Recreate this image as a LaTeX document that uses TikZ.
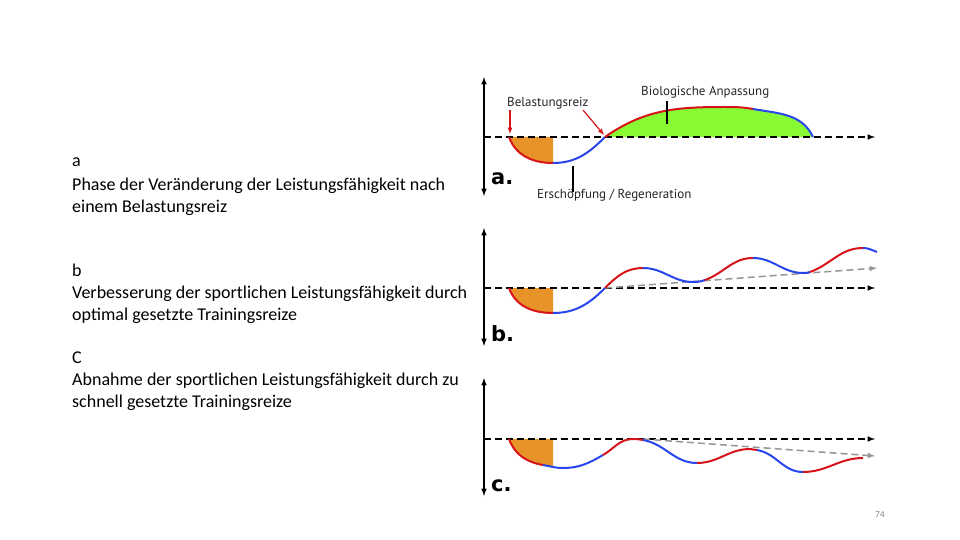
\documentclass[tikz,border=0pt]{standalone}
\usepackage{fontspec}
\setmainfont{Carlito}
\newfontfamily\labelfont{PT Sans}
\newfontfamily\panelfont{DejaVu Sans}
\usepackage{xcolor}
\definecolor{CurveRed}{RGB}{214, 20, 26}
\definecolor{CurveBlue}{RGB}{40, 70, 235}
\definecolor{FillOrange}{RGB}{232, 146, 42}
\definecolor{FillGreen}{RGB}{136, 250, 52}
\definecolor{TrendGray}{RGB}{150, 150, 150}

\begin{document}
\begin{tikzpicture}[x = 1pt, y = -1pt,
    txt/.style = {anchor = base west, inner sep = 0pt, font = \fontsize{18}{21}\selectfont},
    lbl/.style = {inner sep = 0pt, text = black!85, font = \labelfont\fontsize{13}{15}\selectfont},
    panel/.style = {anchor = base west, inner sep = 0pt, font = \panelfont\bfseries\fontsize{21}{24}\selectfont},
    axis/.style = {line width = 1.5pt, latex-latex},
    zero/.style = {line width = 1.5pt, dash pattern = on 7pt off 4pt, -latex},
    trend/.style = {line width = 1.5pt, TrendGray, dash pattern = on 7pt off 4pt, -latex},
    up/.style = {line width = 2pt, CurveRed},
    down/.style = {line width = 2pt, CurveBlue}]
    \useasboundingbox[fill = white] (0, 0) rectangle (960, 540);
    %Text links
    \node[txt] (ta0) at (72, 167) {a};
    \node[txt] (ta1) at (72, 190) {Phase der Veränderung der Leistungsfähigkeit nach};
    \node[txt] (ta2) at (72, 212) {einem Belastungsreiz};
    \node[txt] (tb0) at (72, 276) {b};
    \node[txt] (tb1) at (72, 298) {Verbesserung der sportlichen Leistungsfähigkeit durch};
    \node[txt] (tb2) at (72, 320) {optimal gesetzte Trainingsreize};
    \node[txt] (tc0) at (72, 363) {C};
    \node[txt] (tc1) at (72, 385) {Abnahme der sportlichen Leistungsfähigkeit durch zu};
    \node[txt] (tc2) at (72, 407) {schnell gesetzte Trainingsreize};
    %Bild a: Flächen
    \fill[FillOrange] (509, 137) to[out = -70, in = 180] (553, 163) -- (553, 137) -- cycle;
    \fill[FillGreen] (605, 137) to[out = 35, in = 180] (723, 107) to[out = 0, in = 170] (753, 109)
        to[out = -10, in = 115] (813, 137) -- cycle;
    %Bild a: Achsen
    \draw[axis] (484, 77) -- (484, 196);
    \draw[zero] (484, 137) -- (875, 137);
    %Bild a: Kurve
    \draw[up] (509, 137) to[out = -70, in = 180] (553, 163);
    \draw[down] (553, 163) to[out = 0, in = 225] (605, 137);
    \draw[up] (605, 137) to[out = 35, in = 180] (723, 107) to[out = 0, in = 170] (753, 109);
    \draw[down] (753, 109) to[out = -10, in = 115] (813, 137);
    %Bild a: Beschriftung
    \node[lbl, anchor = west] (reiz) at (507, 103) {Belastungsreiz};
    \node[lbl, anchor = west] (anpassung) at (641, 92) {Biologische Anpassung};
    \node[lbl, anchor = west] (erschoepfung) at (537, 195) {Erschöpfung / Regeneration};
    \coordinate (reiz1) at (510, 134);
    \coordinate (reiz2) at (604, 135);
    \coordinate (gruen) at (667, 124);
    \coordinate (tief) at (573, 166);
    \draw[CurveRed, line width = 1.2pt, -latex] (510, 110) -- (reiz1);
    \draw[CurveRed, line width = 1.2pt, -latex] (583, 110) -- (reiz2);
    \draw[line width = 1.2pt] (anpassung.south -| gruen) ++(0, 3) -- (gruen);
    \draw[line width = 1.2pt] (tief) -- ([yshift = -3pt] erschoepfung.north -| tief);
    \node[panel] (pa) at (491, 184) {a.};
    %Bild b
    \fill[FillOrange] (509, 288) to[out = -70, in = 180] (553, 313) -- (553, 288) -- cycle;
    \draw[axis] (484, 228) -- (484, 346);
    \draw[zero] (484, 288) -- (875, 288);
    \draw[trend] (605, 288) -- (877, 268);
    \draw[up] (509, 288) to[out = -70, in = 180] (553, 313);
    \draw[down] (553, 313) to[out = 0, in = 225] (605, 288);
    \draw[up] (605, 288) to[out = 45, in = 180] (643, 268);
    \draw[down] (643, 268) to[out = 0, in = 180] (693, 282) to[out = 0, in = 200] (705, 280);
    \draw[up] (705, 280) to[out = 20, in = 180] (753, 258);
    \draw[down] (753, 258) to[out = 0, in = 180] (803, 273) to[out = 0, in = 200] (810, 272);
    \draw[up] (810, 272) to[out = 20, in = 180] (863, 248);
    \draw[down] (863, 248) to[out = 0, in = 160] (877, 252);
    \node[panel] (pb) at (491, 341) {b.};
    %Bild c
    \fill[FillOrange] (509, 439) to[out = -70, in = 170] (543, 465) to[out = -10, in = 176] (553, 467)
        -- (553, 439) -- cycle;
    \draw[axis] (484, 378) -- (484, 496);
    \draw[zero] (484, 439) -- (875, 439);
    \draw[trend] (643, 439) -- (875, 456);
    \draw[up] (509, 439) to[out = -70, in = 170] (543, 465);
    \draw[down] (543, 465) to[out = -10, in = 180] (563, 468) to[out = 0, in = 210] (603, 455);
    \draw[up] (603, 455) to[out = 30, in = 180] (633, 439) to[out = 0, in = 170] (643, 440);
    \draw[down] (643, 440) to[out = -10, in = 180] (697, 463);
    \draw[up] (697, 463) to[out = 0, in = 180] (750, 449) to[out = 0, in = 170] (757, 450);
    \draw[down] (757, 450) to[out = -10, in = 180] (803, 472);
    \draw[up] (803, 472) to[out = 0, in = 180] (863, 458);
    \node[panel] (pc) at (491, 491) {c.};
    %Seitenzahl
    \node[inner sep = 0pt, text = gray, font = \fontsize{9}{10}\selectfont] (seite) at (880, 515) {74};
\end{tikzpicture}
\end{document}
